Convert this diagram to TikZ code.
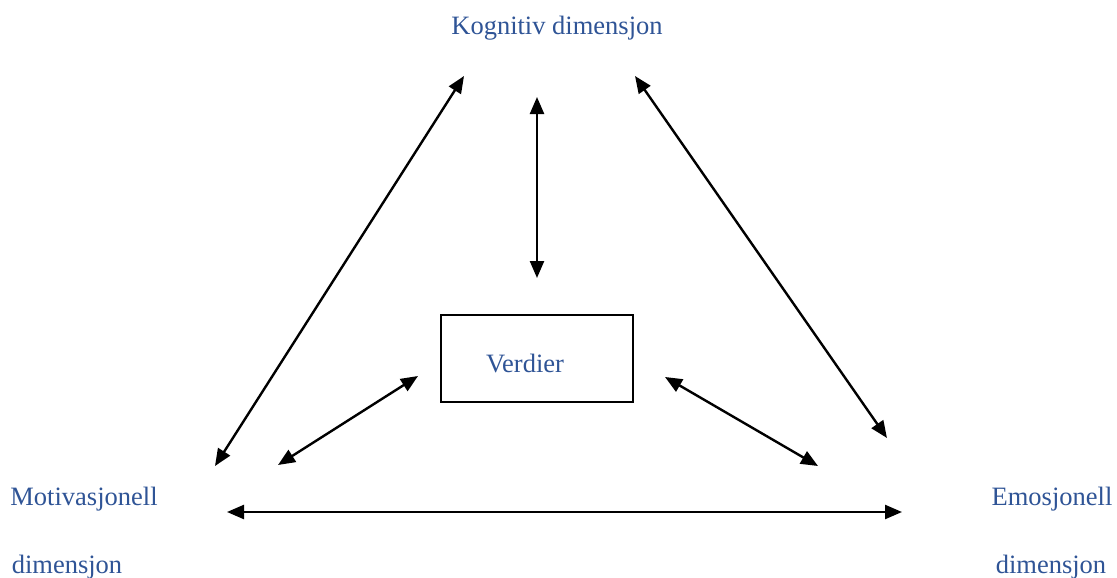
\documentclass[tikz,border=0pt]{standalone}
\usepackage{fontspec}
\setmainfont{Liberation Serif}
\usetikzlibrary{arrows.meta}
\definecolor{labelblue}{HTML}{2F5496}
\begin{document}
\begin{tikzpicture}[x=1pt,y=-1pt,
  lbl/.style={text=labelblue,font=\fontsize{26.5}{30}\selectfont,inner sep=0pt,anchor=center},
  link/.style={line width=2.4pt,{Triangle[length=17pt,width=14pt]}-{Triangle[length=17pt,width=14pt]}}]
\useasboundingbox (0,0) rectangle (1117,578);
% dimension labels
\node[lbl] (kog) at (557,28) {Kognitiv dimensjon};
\node[lbl] (mot1) at (84,499) {Motivasjonell};
\node[lbl] (mot2) at (67,567) {dimensjon};
\node[lbl] (emo1) at (1052,499) {Emosjonell};
\node[lbl] (emo2) at (1051,567) {dimensjon};
% central box
\node[draw,line width=2.4pt,minimum width=192pt,minimum height=87pt,inner sep=0pt] (box) at (537,358.5) {};
\node[lbl] (verd) at (525,364) {Verdier};
% arrow end points
\coordinate (a1) at (215,466); \coordinate (b1) at (464,76);
\coordinate (a2) at (537,97);  \coordinate (b2) at (537,278);
\coordinate (a3) at (635,76);  \coordinate (b3) at (887,438);
\coordinate (a4) at (418,376); \coordinate (b4) at (278,465);
\coordinate (a5) at (665,377); \coordinate (b5) at (818,466);
\coordinate (a6) at (227,512); \coordinate (b6) at (902,512);
% connectors
\draw[link] (a1) -- (b1);
\draw[link] (a2) -- (b2);
\draw[link] (a3) -- (b3);
\draw[link] (a4) -- (b4);
\draw[link] (a5) -- (b5);
\draw[link] (a6) -- (b6);
\end{tikzpicture}
\end{document}
